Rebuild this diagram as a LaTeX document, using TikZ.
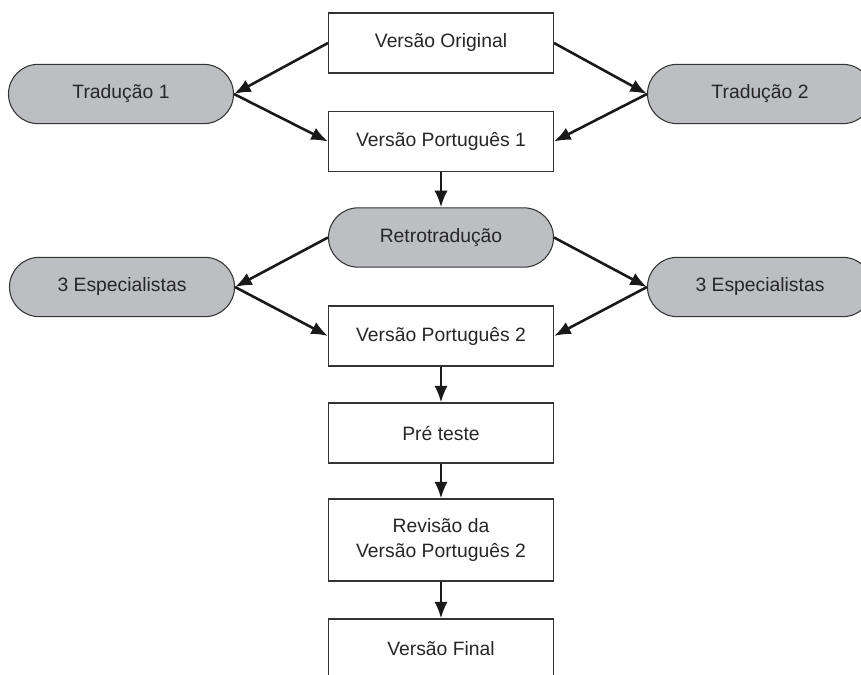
\documentclass[tikz,border=0pt]{standalone}
\usepackage{fontspec}
\setmainfont{Liberation Sans}
\usepackage{tikz}
\usetikzlibrary{arrows.meta,positioning}
\definecolor{pillgray}{RGB}{189,190,193}
\tikzset{
  stagebox/.style={draw=black!80, line width=0.9pt, rectangle, minimum width=6.75cm, minimum height=1.8cm, inner sep=0pt, align=center, fill=white, text=black!85, font=\fontsize{16.5}{21.3}\selectfont},
  pill/.style={draw=black!80, line width=0.9pt, rectangle, rounded corners=0.89cm, minimum width=6.75cm, minimum height=1.78cm, inner sep=0pt, align=center, fill=pillgray, text=black!85, font=\fontsize{16.5}{21.3}\selectfont},
  arrow/.style={-{Latex[length=0.5cm,width=0.4cm]}, line width=2.2pt, black!90}
}
\begin{document}
\begin{tikzpicture}[x=0.03cm,y=-0.03cm]
  \clip (0,0) rectangle (861,675);
  \node[stagebox] (vorig) at (441,43) {Versão Original};
  \node[pill] (trad1) at (121,94) {Tradução 1};
  \node[pill] (trad2) at (760,94) {Tradução 2};
  \node[stagebox] (vpt1) at (441,141.5) {Versão Português 1};
  \node[pill] (retro) at (441,237.5) {Retrotradução};
  \node[pill] (esp1) at (122,287) {3 Especialistas};
  \node[pill] (esp2) at (760,287) {3 Especialistas};
  \node[stagebox] (vpt2) at (441,336) {Versão Português 2};
  \node[stagebox] (preteste) at (441,433) {Pré teste};
  \node[stagebox, minimum height=2.46cm] (revisao) at (441,540) {Revisão da\\Versão Português 2};
  \node[stagebox] (vfinal) at (441,649) {Versão Final};
  \draw[arrow] (vorig.west) -- (trad1.east);
  \draw[arrow] (trad1.east) -- (vpt1.west);
  \draw[arrow] (vorig.east) -- (trad2.west);
  \draw[arrow] (trad2.west) -- (vpt1.east);
  \draw[arrow] (vpt1.south) -- (retro.north);
  \draw[arrow] (retro.west) -- (esp1.east);
  \draw[arrow] (esp1.east) -- (vpt2.west);
  \draw[arrow] (retro.east) -- (esp2.west);
  \draw[arrow] (esp2.west) -- (vpt2.east);
  \draw[arrow] (vpt2.south) -- (preteste.north);
  \draw[arrow] (preteste.south) -- (revisao.north);
  \draw[arrow] (revisao.south) -- (vfinal.north);
\end{tikzpicture}
\end{document}
